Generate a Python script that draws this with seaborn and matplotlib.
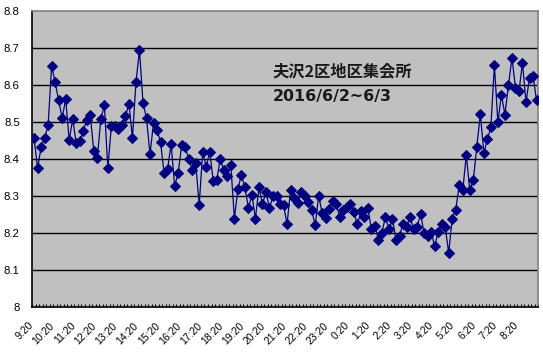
import matplotlib
matplotlib.use("Agg")
import matplotlib.pyplot as plt
import matplotlib.transforms as mtransforms
import seaborn as sns
import pandas as pd
import numpy as np

# ---- data (10-minute readings, 2016/6/2 9:20 -> 6/3 9:10) ----
values = [
    8.458, 8.376, 8.432, 8.457, 8.492, 8.653, 8.608, 8.560, 8.511, 8.563,
    8.452, 8.509, 8.443, 8.449, 8.476, 8.507, 8.519, 8.422, 8.404, 8.508,
    8.547, 8.376, 8.490, 8.490, 8.481, 8.492, 8.516, 8.550, 8.458, 8.608,
    8.695, 8.553, 8.511, 8.413, 8.499, 8.480, 8.446, 8.364, 8.374, 8.441,
    8.328, 8.362, 8.438, 8.432, 8.402, 8.372, 8.390, 8.277, 8.421, 8.379,
    8.421, 8.341, 8.345, 8.401, 8.371, 8.355, 8.385, 8.240, 8.319, 8.358,
    8.324, 8.269, 8.303, 8.240, 8.324, 8.279, 8.311, 8.269, 8.300, 8.301,
    8.278, 8.276, 8.225, 8.317, 8.295, 8.281, 8.312, 8.301, 8.284, 8.262,
    8.222, 8.302, 8.254, 8.241, 8.265, 8.287, 8.278, 8.245, 8.264, 8.272,
    8.280, 8.257, 8.224, 8.259, 8.243, 8.268, 8.212, 8.221, 8.182, 8.202,
    8.245, 8.211, 8.239, 8.183, 8.193, 8.226, 8.218, 8.245, 8.211, 8.216,
    8.253, 8.200, 8.194, 8.203, 8.165, 8.204, 8.224, 8.218, 8.147, 8.240,
    8.263, 8.331, 8.316, 8.411, 8.318, 8.343, 8.434, 8.522, 8.418, 8.454,
    8.486, 8.655, 8.500, 8.574, 8.521, 8.600, 8.674, 8.594, 8.584, 8.660,
    8.554, 8.621, 8.625, 8.559,
]
hour_labels = ["9:20", "10:20", "11:20", "12:20", "13:20", "14:20", "15:20",
               "16:20", "17:20", "18:20", "19:20", "20:20", "21:20", "22:20",
               "23:20", "0:20", "1:20", "2:20", "3:20", "4:20", "5:20", "6:20",
               "7:20", "8:20"]
y_ticks = [8.0, 8.1, 8.2, 8.3, 8.4, 8.5, 8.6, 8.7, 8.8]
y_tick_labels = ["8", "8.1", "8.2", "8.3", "8.4", "8.5", "8.6", "8.7", "8.8"]
title_line1 = "夫沢2区地区集会所"
title_line2 = "2016/6/2~6/3"

df = pd.DataFrame({"idx": np.arange(len(values)), "value": values})

W, H = 543, 354
fig = plt.figure(figsize=(W / 100, H / 100), dpi=100, facecolor="white")
ax = fig.add_axes([32.3 / W, 1 - 307.3 / H, (538.3 - 32.3) / W, (307.3 - 11.3) / H])
ax.set_facecolor("#C0C0C0")

navy = "#000080"
sns.lineplot(data=df, x="idx", y="value", ax=ax, color=navy, linewidth=0.9,
             marker="D", markersize=5.0, markeredgecolor=navy,
             markerfacecolor=navy, zorder=3)

ax.set_xlim(-0.5, len(values) - 0.5)
ax.set_ylim(8.0, 8.8)
ax.set_xlabel("")
ax.set_ylabel("")

# gridlines
for yv in y_ticks[1:-1]:
    ax.axhline(yv, color="black", linewidth=1.0, zorder=1)

ax.set_yticks(y_ticks)
ax.set_yticklabels(y_tick_labels, fontfamily="Liberation Sans", fontsize=8.2)
ax.tick_params(axis="y", length=0, pad=9)

tick_pos = np.arange(0, len(values), 6)
ax.set_xticks(tick_pos)
ax.set_xticklabels(hour_labels, rotation=45, ha="right", va="top",
                   rotation_mode="anchor", fontfamily="Liberation Sans",
                   fontsize=7.5)
ax.tick_params(axis="x", which="major", length=0, pad=8)
offset = mtransforms.ScaledTranslation(-0.06, -0.02, fig.dpi_scale_trans)
for lbl in ax.get_xticklabels():
    lbl.set_transform(lbl.get_transform() + offset)
ax.set_xticks(np.arange(-0.5, len(values), 1), minor=True)
ax.tick_params(axis="x", which="minor", direction="in", length=2.2,
               width=0.8, color="black")

for side in ["left", "bottom"]:
    ax.spines[side].set_color("black")
    ax.spines[side].set_linewidth(1.2)
for side in ["top", "right"]:
    ax.spines[side].set_color("#808080")
    ax.spines[side].set_linewidth(1.2)

fig.text(272.5 / W, 1 - 71.5 / H, title_line1, fontsize=11.7, fontweight="bold",
         family=["Noto Sans CJK JP", "DejaVu Sans"], color="#1a1a1a",
         ha="left", va="center")
fig.text(272.5 / W, 1 - 96 / H, title_line2, fontsize=11.4, fontweight="bold",
         family=["DejaVu Sans"], color="#1a1a1a",
         ha="left", va="center")

fig.savefig("out.png", dpi=100, facecolor="white")
